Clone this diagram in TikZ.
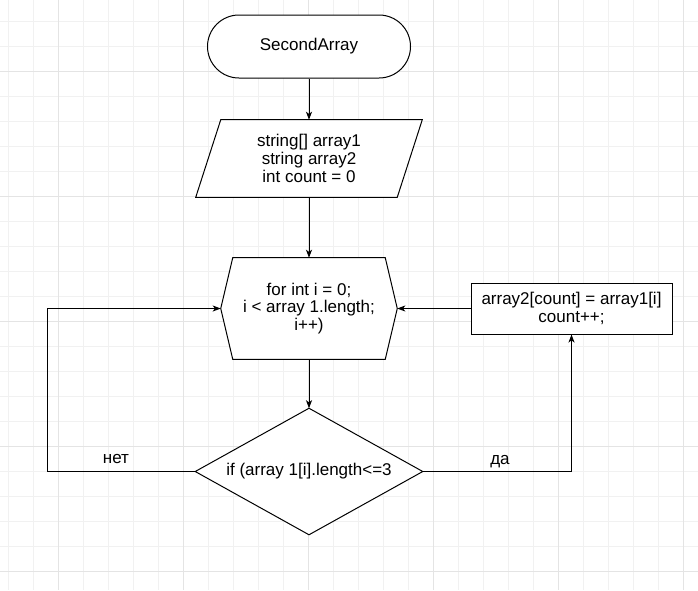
\documentclass[tikz,border=0pt]{standalone}
\usepackage{fontspec}
\setmainfont{Liberation Sans}
\usetikzlibrary{arrows.meta,calc}
\definecolor{gridminor}{HTML}{F1F1F1}
\definecolor{gridmajor}{HTML}{E4E4E4}
\tikzset{
  shp/.style={rectangle,inner sep=0pt,align=center,font=\fontsize{12.75pt}{13.2pt}\selectfont},
  outl/.style={draw=black,line width=0.75pt,line join=miter},
  arr/.style={draw=black,line width=0.75pt,-{Stealth[length=6pt,width=4.5pt,inset=1.6pt]}},
  lbl/.style={inner sep=0pt,font=\fontsize{12.75pt}{13.2pt}\selectfont}
}
\begin{document}
\begin{tikzpicture}[x=0.75pt,y=-0.75pt]
\useasboundingbox (0,0) rectangle (698,590);
\fill[white] (0,0) rectangle (698,590);
% grid
\foreach \i in {0,...,27} \draw[gridminor,line width=0.75pt] ({8.3+25*\i},0) -- ({8.3+25*\i},590);
\foreach \j in {0,...,23} \draw[gridminor,line width=0.75pt] (0,{21.5+25*\j}) -- (698,{21.5+25*\j});
\foreach \i in {0,...,5} \draw[gridmajor,line width=0.75pt] ({58.3+125*\i},0) -- ({58.3+125*\i},590);
\foreach \j in {0,...,4} \draw[gridmajor,line width=0.75pt] (0,{71.5+125*\j}) -- (698,{71.5+125*\j});

% terminal
\node[shp,outl,fill=white,rounded corners=23.6pt,minimum width=152.25pt,minimum height=47.25pt] (term) at (309,46.5) {SecondArray};

% input parallelogram
\node[shp,minimum width=169.5pt,minimum height=57.75pt] (inp) at (309,158.5) {};
\draw[outl,fill=white] ($(inp.north west)+(25,0)$) -- (inp.north east) -- ($(inp.south east)+(-25,0)$) -- (inp.south west) -- cycle;
\node[shp] (inptxt) at (inp.center) {string[] array1\\string array2\\int count = 0};

% loop hexagon
\node[shp,minimum width=132pt,minimum height=75.75pt] (hex) at (309,308.5) {};
\draw[outl,fill=white] (hex.west) -- ($(hex.north west)+(12,0)$) -- ($(hex.north east)+(-12,0)$) -- (hex.east) -- ($(hex.south east)+(-12,0)$) -- ($(hex.south west)+(12,0)$) -- cycle;
\node[shp] (hextxt) at (hex.center) {for int i = 0;\\i < array 1.length;\\i++)};

% decision diamond
\node[shp,minimum width=170.25pt,minimum height=94.5pt] (cond) at (309,471.5) {};
\draw[outl,fill=white] (cond.north) -- (cond.east) -- (cond.south) -- (cond.west) -- cycle;
\node[shp] (condtxt) at (cond.center) {if (array 1[i].length<=3};

% process box
\node[shp,outl,fill=white,minimum width=150.75pt,minimum height=38.25pt] (box) at (571.5,308.5) {array2[count] = array1[i]\\count++;};

% connectors
\coordinate (lft) at (47,471.5);
\draw[arr] (term.south) -- (inp.north);
\draw[arr] (inp.south) -- (hex.north);
\draw[arr] (hex.south) -- (cond.north);
\draw[arr] (cond.east) -| (box.south);
\draw[arr] (box.west) -- (hex.east);
\draw[arr] (cond.west) -- (lft) |- (hex.west);

% labels
\node[lbl] (yes) at (500,462) {да};
\node[lbl] (no) at (116,459) {нет};
\end{tikzpicture}
\end{document}
